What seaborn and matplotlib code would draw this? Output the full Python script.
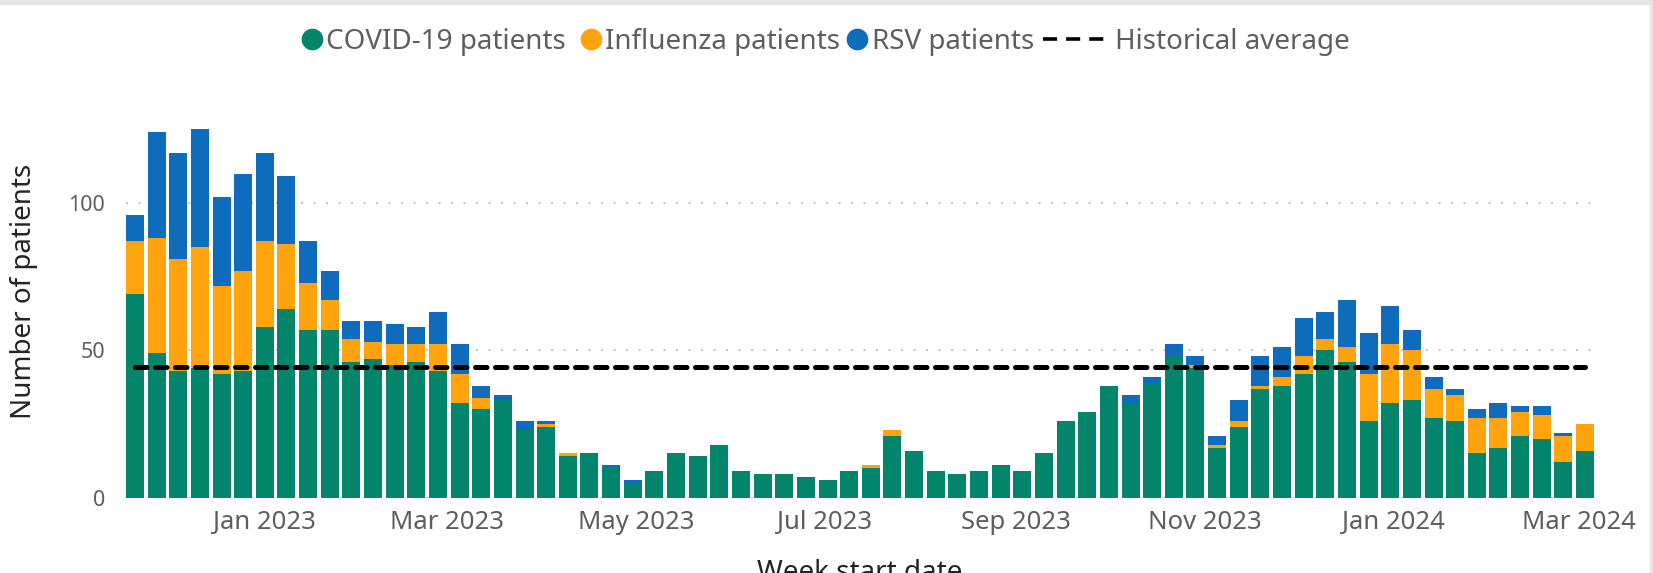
import pandas as pd
import numpy as np
import matplotlib
matplotlib.use('Agg')
import matplotlib.pyplot as plt
import matplotlib.dates as mdates
from matplotlib.lines import Line2D
from matplotlib.patches import Rectangle
import seaborn as sns

# weekly values (Nov 2022 - Mar 2024)
first_week = '2022-11-20'
covid = [69, 49, 43, 44, 42, 43, 58, 64, 57, 57, 46, 47, 45, 46, 43, 32, 30, 33,
         23, 24, 14, 15, 10, 5, 9, 15, 14, 18, 9, 8, 8, 7, 6, 9, 10, 21, 16,
         9, 8, 9, 11, 9, 15, 26, 29, 38, 32, 39, 48, 44, 17, 24, 37, 38, 42,
         50, 46, 26, 32, 33, 27, 26, 15, 17, 21, 20, 12, 16]
influenza = [18, 39, 38, 41, 30, 34, 29, 22, 16, 10, 8, 6, 7, 6, 9, 10, 4, 0,
             0, 1, 1, 0, 0, 0, 0, 0, 0, 0, 0, 0, 0, 0, 0, 0, 1, 2, 0,
             0, 0, 0, 0, 0, 0, 0, 0, 0, 0, 0, 0, 1, 1, 2, 1, 3, 6,
             4, 5, 16, 20, 17, 10, 9, 12, 10, 8, 8, 9, 9]
rsv = [9, 36, 36, 40, 30, 33, 30, 23, 14, 10, 6, 7, 7, 6, 11, 10, 4, 2,
       3, 1, 0, 0, 1, 1, 0, 0, 0, 0, 0, 0, 0, 0, 0, 0, 0, 0, 0,
       0, 0, 0, 0, 0, 0, 0, 0, 0, 3, 2, 4, 3, 3, 7, 10, 10, 13,
       9, 16, 14, 13, 7, 4, 2, 3, 5, 2, 3, 1, 0]
historical_avg = 44.2

series_names = ['COVID-19 patients', 'Influenza patients', 'RSV patients']
colors = {'COVID-19 patients': '#02856A', 'Influenza patients': '#FFA40F',
          'RSV patients': '#0F6CBD'}
tick_dates = ['2023-01-01', '2023-03-01', '2023-05-01', '2023-07-01',
              '2023-09-01', '2023-11-01', '2024-01-01', '2024-03-01']

weeks = pd.date_range(first_week, periods=len(covid), freq='7D')
df = pd.DataFrame({'week': weeks, 'COVID-19 patients': covid,
                   'Influenza patients': influenza, 'RSV patients': rsv})
df['x'] = mdates.date2num(df['week'])
df['hist'] = historical_avg
long = df.melt(id_vars=['week', 'x'], value_vars=series_names,
               var_name='series', value_name='patients')

sns.set_theme(style='white')
plt.rcParams['font.family'] = ['Noto Sans', 'DejaVu Sans']

fig = plt.figure(figsize=(16.53, 5.73), dpi=100)
ax = fig.add_axes([126 / 1653, 1 - 497.7 / 573, 1468 / 1653, 394.9 / 573])

x0 = df['x'].iloc[0]
xn = df['x'].iloc[-1]
sns.histplot(data=long, x='x', weights='patients', hue='series',
             hue_order=series_names[::-1], multiple='stack', binwidth=7,
             binrange=(x0 - 3.5, xn + 3.5), shrink=0.83, palette=colors,
             alpha=1, linewidth=0, legend=False, ax=ax)

sns.lineplot(data=df, x='x', y='hist', color='black', lw=3.6,
             linestyle=(0, (2.3, 1.7)), dash_capstyle='round', ax=ax, zorder=5)

half = 0.83 * 3.5
ax.set_xlim(x0 - half, xn + half)
ax.set_ylim(0, 134)
ax.set_yticks([0, 50, 100])
ax.set_xticks(mdates.datestr2num(tick_dates))
ax.xaxis.set_major_formatter(mdates.DateFormatter('%b %Y'))
ax.tick_params(axis='x', length=0, pad=9, labelsize=18.5, labelcolor='#605E5C')
ax.tick_params(axis='y', length=0, pad=15, labelsize=15.5, labelcolor='#605E5C')
ax.grid(axis='y', color='#C8C6C4', lw=1.5, linestyle=(0, (1, 5)))
ax.set_axisbelow(True)
sns.despine(ax=ax, left=True, bottom=True)

ax.set_ylabel('Number of patients', fontsize=20, color='#252423')
ax.yaxis.set_label_coords(-0.060, 0.523)
ax.set_xlabel('Week start date', fontsize=20, color='#252423')
ax.xaxis.set_label_coords(0.5, -0.155)

# legend drawn across the top
def fx(px):
    return px / 1653

def fy(py):
    return 1 - py / 573

for cx, tx, name in [(311.8, 326.4, 'COVID-19 patients'),
                     (591, 605, 'Influenza patients'),
                     (857, 871.8, 'RSV patients')]:
    fig.add_artist(Line2D([fx(cx)], [fy(38.6)], marker='o', markersize=14.6,
                          color=colors[name], transform=fig.transFigure))
    fig.text(fx(tx), fy(49.3), name, fontsize=20, color='#605E5C',
             va='baseline', ha='left')
fig.add_artist(Line2D([fx(1043), fx(1106)], [fy(38.6), fy(38.6)], color='black',
                      lw=2.6, linestyle=(0, (3.9, 2.5)), dash_capstyle='butt',
                      transform=fig.transFigure))
fig.text(fx(1114.6), fy(49.3), 'Historical average', fontsize=20,
         color='#605E5C', va='baseline', ha='left')

fig.patches.append(Rectangle((0, 1 - 4 / 573), 1, 4 / 573, color='#E6E6E6',
                             transform=fig.transFigure, figure=fig))
fig.patches.append(Rectangle((1650 / 1653, 0), 3 / 1653, 1, color='#E6E6E6',
                             transform=fig.transFigure, figure=fig))

fig.savefig('out.png', dpi=100)
